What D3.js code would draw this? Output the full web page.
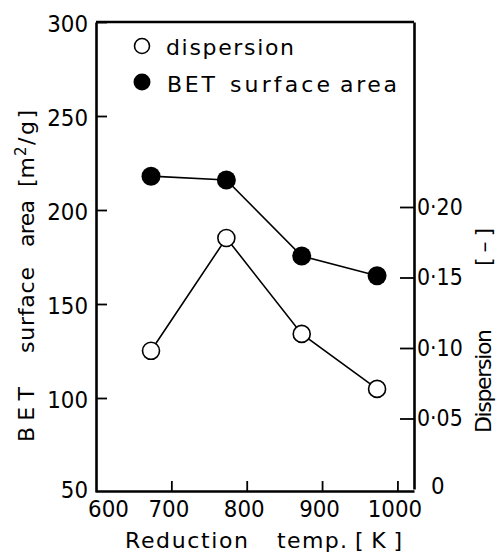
<!DOCTYPE html>
<html><head><meta charset="utf-8">
<script src="https://cdn.jsdelivr.net/npm/d3@7"></script>
<style>
body{margin:0;background:#fff;}
text{font-family:"DejaVu Sans",sans-serif;fill:#000;}
</style></head>
<body><svg id="c" width="498" height="552"></svg>
<script>
const temps = [673, 773, 873, 973];
const betArea = [218, 216, 175.5, 165];
const dispersion = [0.098, 0.178, 0.110, 0.071];
const xTicks = [600, 700, 800, 900, 1000];
const yLeftTicks = [50, 100, 150, 200, 250, 300];
const yRightTicks = [0, 0.05, 0.10, 0.15, 0.20];
const yRightLabels = ["0", "0·05", "0·10", "0·15", "0·20"];

const svg = d3.select("#c");
const x = d3.scaleLinear().domain([600, 1022]).range([96, 414]);
const yL = d3.scaleLinear().domain([50, 300]).range([492, 22]);
const yR = d3.scaleLinear().domain([0, 0.3312]).range([489, 22]);

function styleAxis(g) {
  g.select(".domain").attr("stroke", "#000").attr("stroke-width", 2.6);
  g.selectAll(".tick line").attr("stroke", "#000").attr("stroke-width", 1.8);
  g.selectAll(".tick text").attr("font-size", 23).attr("font-family", "DejaVu Sans").attr("fill", "#000")
    .attr("lengthAdjust", "spacingAndGlyphs")
    .attr("textLength", function () { return this.textContent.replace("·", "").length * 13.6 + (this.textContent.includes("·") ? 5 : 0); });
}

const gL = svg.append("g").attr("transform", "translate(96,0)")
  .call(d3.axisLeft(yL).tickValues(yLeftTicks).tickFormat(d3.format("d")).tickSize(-11).tickSizeOuter(0).tickPadding(8));
const gB = svg.append("g").attr("transform", "translate(0,491)")
  .call(d3.axisBottom(x).tickValues(xTicks).tickFormat(d3.format("d")).tickSize(-10).tickSizeOuter(0).tickPadding(10));
const gR = svg.append("g").attr("transform", "translate(414,0)")
  .call(d3.axisRight(yR).tickValues(yRightTicks).tickFormat((d, i) => yRightLabels[i]).tickSize(-14).tickSizeOuter(0).tickPadding(3));

[gL, gB, gR].forEach(styleAxis);
gL.selectAll(".tick text").attr("dy", "0.42em");
gL.selectAll(".tick").filter(d => d === 50).select("line").remove();
gL.selectAll(".tick").filter(d => d === 50).select("text").attr("dy", "0.25em");
gB.selectAll(".tick").filter(d => d === 600).select("line").remove();
gB.selectAll(".tick").filter(d => d === 600).select("text").attr("x", 12);
gB.selectAll(".tick").filter(d => d !== 600).select("text").attr("x", -3);
gR.selectAll(".tick").filter(d => d === 0).select("line").remove();
gR.selectAll(".tick").filter(d => d === 0).select("text").attr("x", 17).attr("dy", "0.2em");

svg.append("line").attr("x1", x(600)).attr("x2", x(1022)).attr("y1", 22).attr("y2", 22)
  .attr("stroke", "#000").attr("stroke-width", 2.6);

const lineB = d3.line().x((d, i) => x(temps[i])).y(d => yL(d));
const lineD = d3.line().x((d, i) => x(temps[i])).y(d => yR(d));
svg.append("path").attr("d", lineB(betArea)).attr("fill", "none").attr("stroke", "#000").attr("stroke-width", 1.6);
svg.append("path").attr("d", lineD(dispersion)).attr("fill", "none").attr("stroke", "#000").attr("stroke-width", 1.6);

svg.selectAll("circle.b").data(betArea).enter().append("circle")
  .attr("cx", (d, i) => x(temps[i])).attr("cy", d => yL(d)).attr("r", 9.5).attr("fill", "#000");
svg.selectAll("circle.d").data(dispersion).enter().append("circle")
  .attr("cx", (d, i) => x(temps[i])).attr("cy", d => yR(d)).attr("r", 8.5)
  .attr("fill", "#fff").attr("stroke", "#000").attr("stroke-width", 1.6);

function word(str, px, py, len, rot, family) {
  const t = svg.append("text").attr("font-size", 22)
    .attr("textLength", len).attr("lengthAdjust", "spacing");
  if (family) t.attr("font-family", family);
  if (rot) t.attr("transform", `translate(${px},${py}) rotate(-90)`);
  else t.attr("x", px).attr("y", py);
  return t.text(str);
}

// legend
svg.append("circle").attr("cx", 142).attr("cy", 46).attr("r", 7.5).attr("fill", "#fff").attr("stroke", "#000").attr("stroke-width", 1.6);
svg.append("circle").attr("cx", 142).attr("cy", 82).attr("r", 8.5).attr("fill", "#000");
word("dispersion", 166, 55, 128);
word("BET", 167, 92, 48);
word("surface", 230, 92, 100);
word("area", 340, 92, 57);

// x title
word("Reduction", 125, 548, 123);
word("temp.", 277, 548, 70);
word("[K]", 355, 548, 47);

// left title
word("BET", 34, 442, 55, true);
word("surface", 34, 353, 86, true);
word("area", 34, 247, 47, true);
word("[m", 34, 187, 30, true);
const sup = svg.append("text").attr("transform", "translate(34,187) rotate(-90)").attr("font-size", 22);
sup.append("tspan").attr("x", 31).attr("dy", -8).attr("font-size", 15).text("2");
sup.append("tspan").attr("x", 42).attr("dy", 8).attr("textLength", 35).attr("lengthAdjust", "spacing").text("/g]");

// right title
word("Dispersion", 491, 433, 104, true, "Liberation Sans");
word("[–]", 491, 266, 38, true);
</script></body></html>
